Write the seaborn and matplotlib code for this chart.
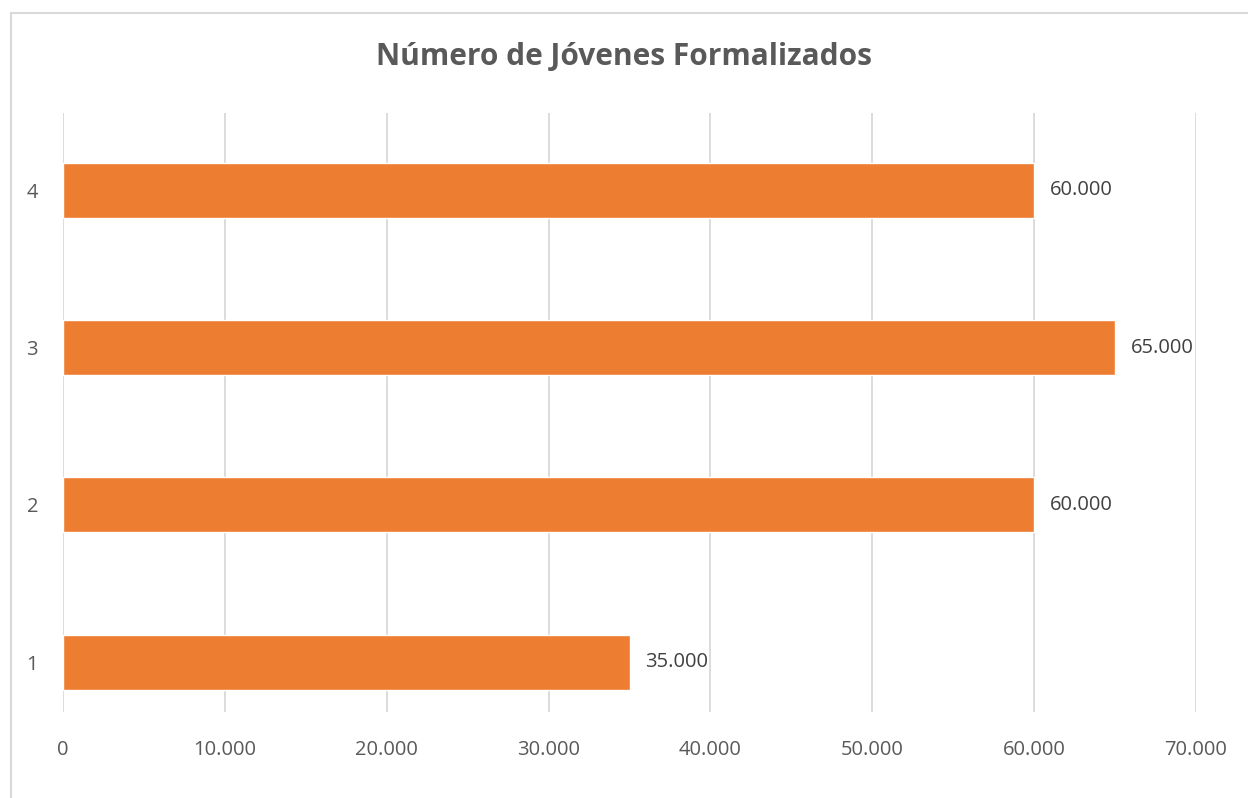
import matplotlib
matplotlib.use("Agg")
import matplotlib.pyplot as plt
import seaborn as sns
import pandas as pd
from matplotlib.patches import Rectangle
from matplotlib.ticker import FuncFormatter

categories = ["4", "3", "2", "1"]
values = [60000, 65000, 60000, 35000]
title = "Número de Jóvenes Formalizados"
xticks = [0, 10000, 20000, 30000, 40000, 50000, 60000, 70000]

sns.set_theme(style="white")
plt.rcParams['font.family'] = ['Open Sans', 'DejaVu Sans']

df = pd.DataFrame({"cat": categories, "val": values})

fig = plt.figure(figsize=(12.48, 7.98), dpi=100)
ax = fig.add_axes([63/1248, 1-712/798, (1196-63)/1248, (712-113)/798])

fig.patches.append(Rectangle((11/1248, -0.1), 1.2, 1-13/798 + 0.1,
                             transform=fig.transFigure,
                             fill=False, edgecolor="#D9D9D9", linewidth=1.5))

sns.barplot(data=df, x="val", y="cat", order=categories, orient="h",
            color="#ED7D31", saturation=1, width=0.35, ax=ax, zorder=3)

ax.set_xlim(0, 70000)
ax.set_ylim(3 + 0.318, -0.493)
ax.set_xticks(xticks)
fmt = lambda v, p: f"{int(v):,}".replace(",", ".")
ax.xaxis.set_major_formatter(FuncFormatter(fmt))
ax.grid(axis="x", color="#D9D9D9", linewidth=1.3, zorder=0)
ax.grid(axis="y", visible=False)
for s in ax.spines.values():
    s.set_visible(False)
ax.tick_params(axis="both", length=0, labelsize=14.5, colors="#595959")
ax.tick_params(axis="x", pad=20)
ax.tick_params(axis="y", pad=18)
ax.set_xlabel("")
ax.set_ylabel("")

for i, v in enumerate(values):
    ax.annotate(fmt(v, None), xy=(v, i), xytext=(11.5, 0), textcoords="offset points",
                va="center", ha="left", fontsize=14.5, color="#404040")

fig.text(0.5, 1-57/798, title, ha="center", va="center", fontsize=21.5,
         fontweight="bold", color="#595959")

fig.savefig("out.png", dpi=100, facecolor="white")
